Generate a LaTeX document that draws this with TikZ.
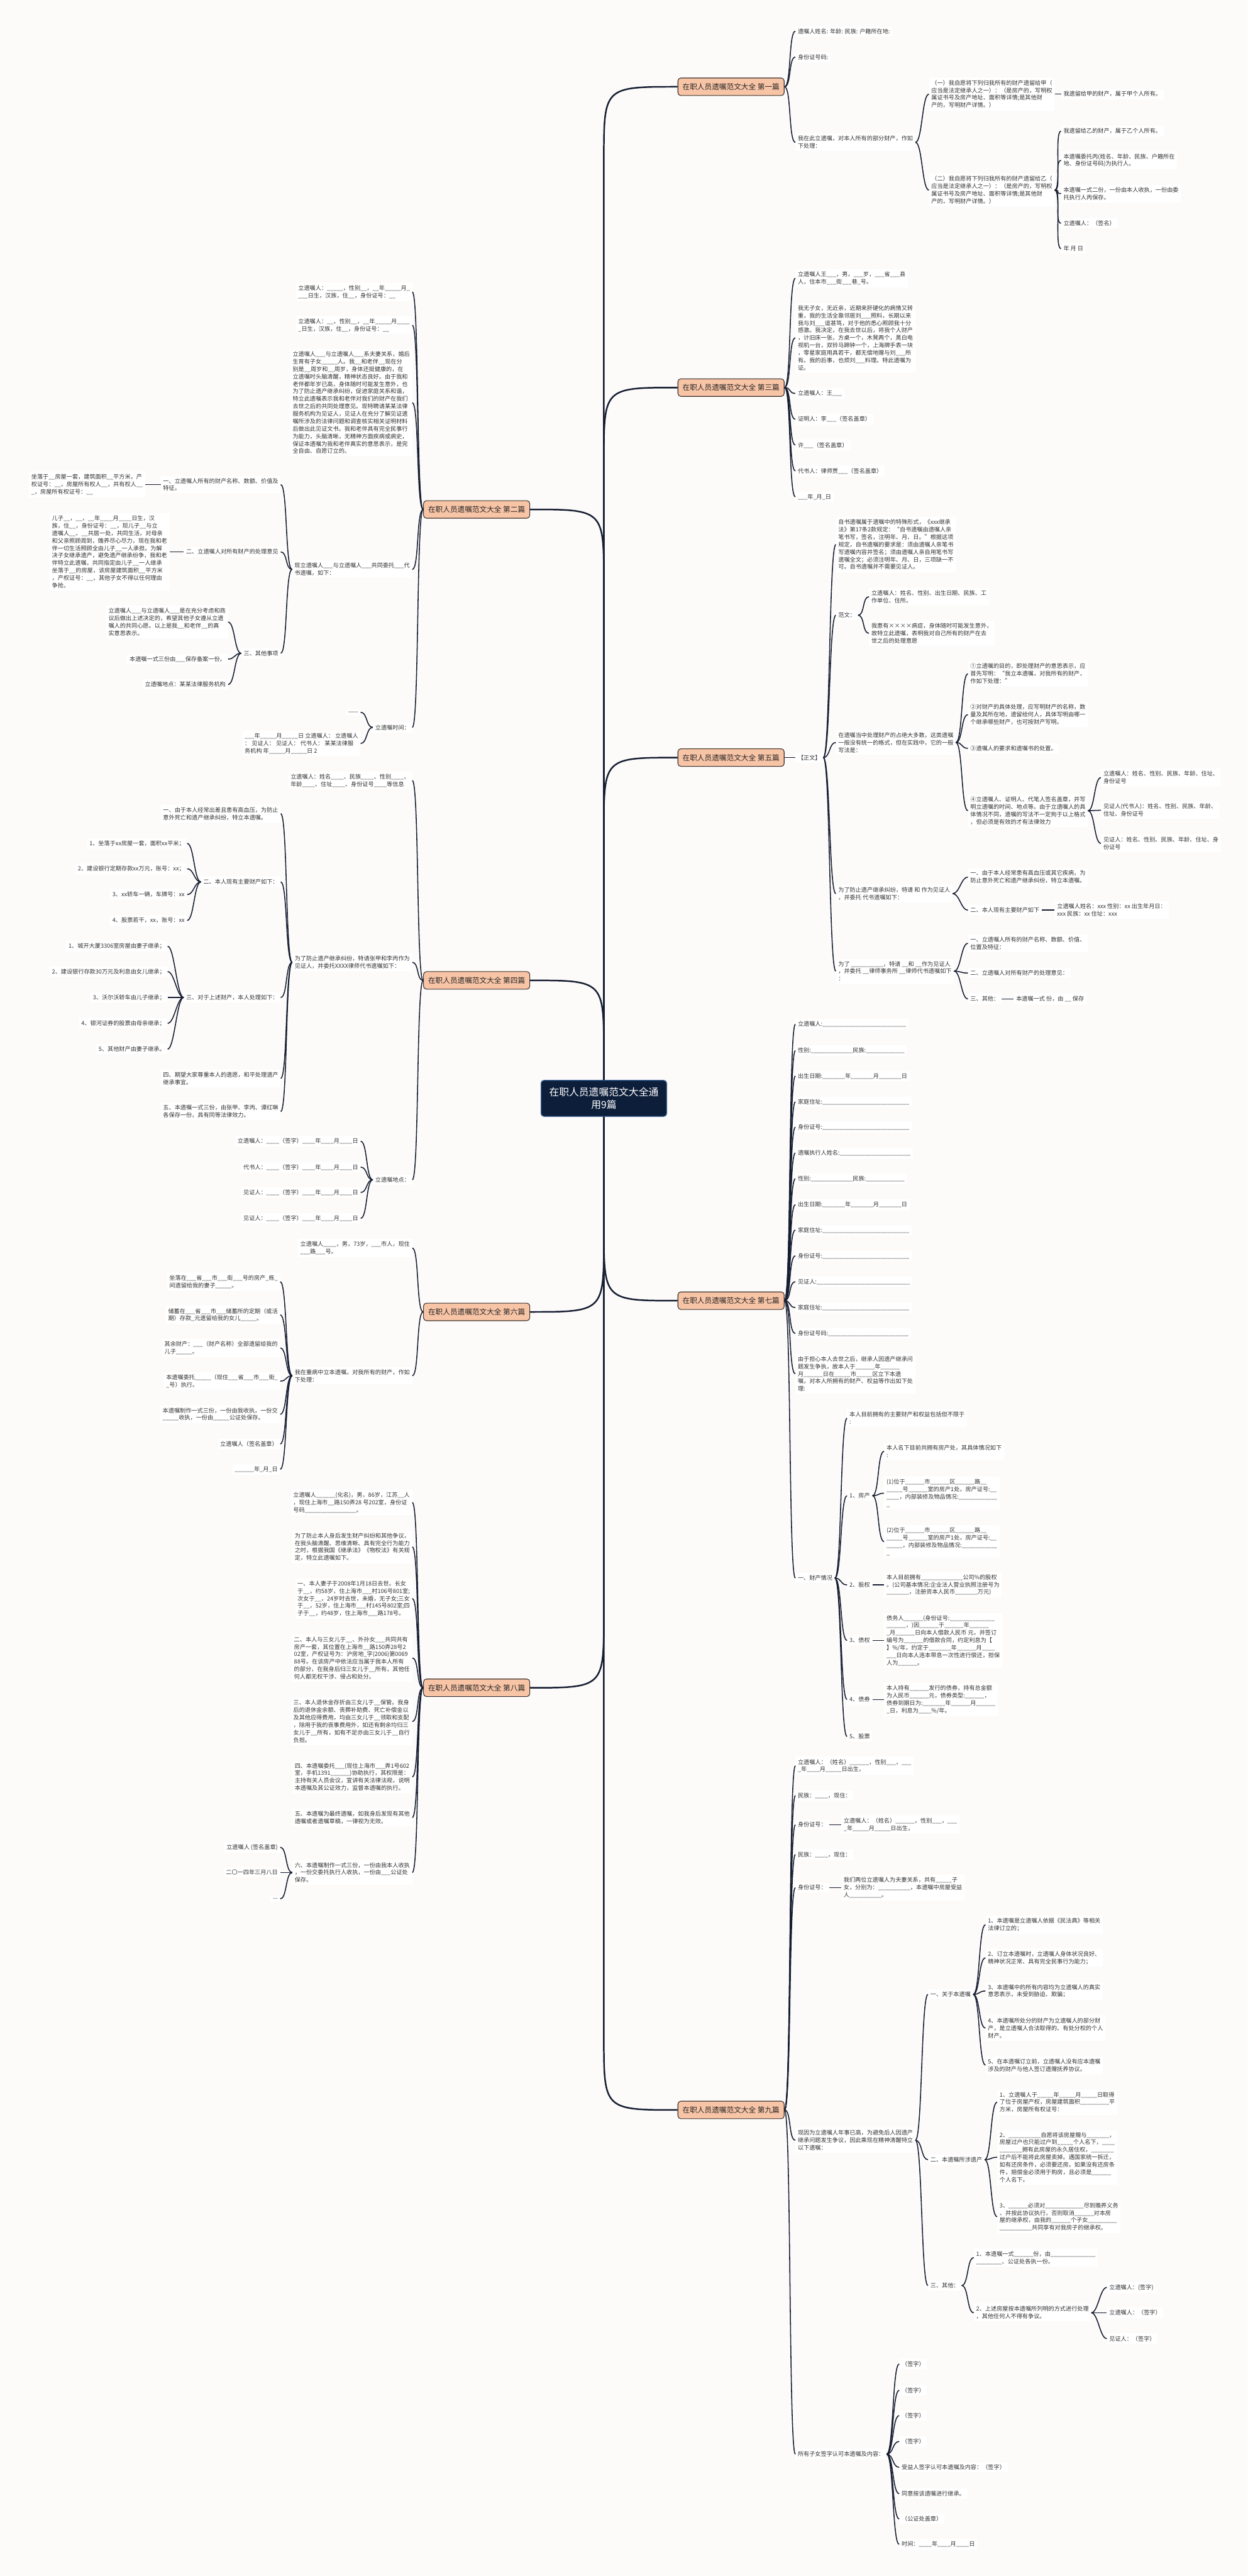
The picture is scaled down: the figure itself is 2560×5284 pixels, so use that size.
\documentclass[tikz,border=0pt]{standalone}
\usepackage{fontspec}
\setmainfont{Noto Sans CJK SC}
\usepackage{tikz}
\usetikzlibrary{calc}
\definecolor{bgcol}{RGB}{253,251,250}
\definecolor{linecol}{RGB}{22,30,50}
\definecolor{peach}{RGB}{248,196,166}
\definecolor{navy}{RGB}{13,30,58}
\definecolor{rootedge}{RGB}{70,110,160}
\definecolor{brdr}{RGB}{60,50,45}
\definecolor{txt}{RGB}{50,50,50}

\begin{document}
\catcode`\_=12
\begin{tikzpicture}[x=0.25mm, y=-0.25mm,
  root/.style = {fill=navy, draw=rootedge, line width=0.4mm, rounded corners=1.5mm, text=white, font=\fontsize{14.5pt}{19pt}\selectfont, align=center, minimum width=64.5mm, minimum height=18.5mm},
  main/.style = {fill=peach, draw=brdr, line width=0.35mm, rounded corners=1.5mm, text=black!85, font=\fontsize{10.7pt}{13pt}\selectfont, minimum width=54.5mm, minimum height=9mm},
  leaf/.style = {fill=white, text=txt, font=\fontsize{8.4pt}{10.9pt}\selectfont, align=left, inner sep=1.2mm},
  trunk/.style = {draw=linecol, line width=0.8mm},
  link/.style = {draw=linecol, line width=0.5mm, to path={.. controls +(14,0) and +(-14,0) .. (\tikztotarget)}},
  linkl/.style = {draw=linecol, line width=0.5mm, to path={.. controls +(-14,0) and +(14,0) .. (\tikztotarget)}}]
\fill[bgcol] (0,0) rectangle (2560,5284);
\useasboundingbox (0,0) rectangle (2560,5284);

\node[root] (0) at (1239,2253) {在职人员遗嘱范文大全通\\用9篇};
\node[main] (1) at (1500,178) {在职人员遗嘱范文大全 第一篇};
\node[main] (2) at (978,1045) {在职人员遗嘱范文大全 第二篇};
\node[main] (3) at (1500,795) {在职人员遗嘱范文大全 第三篇};
\node[main] (4) at (978,2011) {在职人员遗嘱范文大全 第四篇};
\node[main] (5) at (1500,1554) {在职人员遗嘱范文大全 第五篇};
\node[main] (6) at (978,2691) {在职人员遗嘱范文大全 第六篇};
\node[main] (7) at (1500,2668) {在职人员遗嘱范文大全 第七篇};
\node[main] (8) at (978,3462) {在职人员遗嘱范文大全 第八篇};
\node[main] (9) at (1500,4328) {在职人员遗嘱范文大全 第九篇};

\draw[trunk] (0.north) -- ($(0.north |- 1.west)+(0,150)$) .. controls (0.north |- 1.west) .. (1.west);
\draw[trunk] (0.north) -- ($(0.north |- 2.east)+(0,150)$) .. controls (0.north |- 2.east) .. (2.east);
\draw[trunk] (0.north) -- ($(0.north |- 3.west)+(0,150)$) .. controls (0.north |- 3.west) .. (3.west);
\draw[trunk] (0.north) -- ($(0.north |- 4.east)+(0,150)$) .. controls (0.north |- 4.east) .. (4.east);
\draw[trunk] (0.north) -- ($(0.north |- 5.west)+(0,150)$) .. controls (0.north |- 5.west) .. (5.west);
\draw[trunk] (0.south) -- ($(0.south |- 6.east)+(0,-150)$) .. controls (0.south |- 6.east) .. (6.east);
\draw[trunk] (0.south) -- ($(0.south |- 7.west)+(0,-150)$) .. controls (0.south |- 7.west) .. (7.west);
\draw[trunk] (0.south) -- ($(0.south |- 8.east)+(0,-150)$) .. controls (0.south |- 8.east) .. (8.east);
\draw[trunk] (0.south) -- ($(0.south |- 9.west)+(0,-150)$) .. controls (0.south |- 9.west) .. (9.west);

\node[leaf, anchor=west] (11) at (1632,64) {遗嘱人姓名: 年龄: 民族: 户籍所在地:};
\node[leaf, anchor=west] (12) at (1632,117) {身份证号码:};
\node[leaf, anchor=west] (13) at (1632,292) {我在此立遗嘱，对本人所有的部分财产，作如\\下处理：};
\node[leaf, anchor=west] (131) at (1906,193) {（一）我自愿将下列归我所有的财产遗留给甲（\\应当是法定继承人之一）：（是房产的，写明权\\属证书号及房产地址、面积等详情;是其他财\\产的，写明财产详情。）};
\node[leaf, anchor=west] (1311) at (2177,193) {我遗留给甲的财产，属于甲个人所有。};
\node[leaf, anchor=west] (132) at (1906,390) {（二）我自愿将下列归我所有的财产遗留给乙（\\应当是法定继承人之一）：（是房产的，写明权\\属证书号及房产地址、面积等详情;是其他财\\产的，写明财产详情。）};
\node[leaf, anchor=west] (1321) at (2177,269) {我遗留给乙的财产，属于乙个人所有。};
\node[leaf, anchor=west] (1322) at (2177,329) {本遗嘱委托丙(姓名、年龄、民族、户籍所在\\地、身份证号码)为执行人。};
\node[leaf, anchor=west] (1323) at (2177,397) {本遗嘱一式二份，一份由本人收执，一份由委\\托执行人丙保存。};
\node[leaf, anchor=west] (1324) at (2177,458) {立遗嘱人：（签名）};
\node[leaf, anchor=west] (1325) at (2177,510) {年 月 日};
\draw[link] (1.east) to (11.west);
\draw[link] (1.east) to (12.west);
\draw[link] (1.east) to (13.west);
\draw[link] (13.east) to (131.west);
\draw[link] (13.east) to (132.west);
\draw[link] (131.east) to (1311.west);
\draw[link] (132.east) to (1321.west);
\draw[link] (132.east) to (1322.west);
\draw[link] (132.east) to (1323.west);
\draw[link] (132.east) to (1324.west);
\draw[link] (132.east) to (1325.west);

\node[leaf, anchor=west] (31) at (1632,571) {立遗嘱人王___，男，___岁，___省___县\\人，住本市___街___巷_号。};
\node[leaf, anchor=west] (32) at (1632,693) {我无子女，无近亲，近期来肝硬化的病情又转\\重，我的生活全靠邻居刘___照料，长期以来\\我与刘___谊甚笃，对于他的悉心照顾我十分\\感激。我决定，在我去世以后，将我个人财产\\，计旧床一张，方桌一个，木凳两个，黑白电\\视机一台，双铃马蹄钟一个，上海牌手表一块\\，零星家庭用具若干，都无偿地赠与刘___所\\有。我的后事，也烦刘___料理。特此遗嘱为\\证。};
\node[leaf, anchor=west] (33) at (1632,807) {立遗嘱人：王___};
\node[leaf, anchor=west] (34) at (1632,860) {证明人：李___（签名盖章）};
\node[leaf, anchor=west] (35) at (1632,913) {许___（签名盖章）};
\node[leaf, anchor=west] (36) at (1632,966) {代书人：律师贾___（签名盖章）};
\node[leaf, anchor=west] (37) at (1632,1019) {___年_月_日};
\draw[link] (3.east) to (31.west);
\draw[link] (3.east) to (32.west);
\draw[link] (3.east) to (33.west);
\draw[link] (3.east) to (34.west);
\draw[link] (3.east) to (35.west);
\draw[link] (3.east) to (36.west);
\draw[link] (3.east) to (37.west);

\node[leaf, anchor=west] (51) at (1632,1554) {【正文】};
\node[leaf, anchor=west] (511) at (1715,1117) {自书遗嘱属于遗嘱中的特殊形式，《xxx继承\\法》第17条2款规定：“自书遗嘱由遗嘱人亲\\笔书写，签名，注明年、月、日。”根据这项\\规定，自书遗嘱的要求是：须由遗嘱人亲笔书\\写遗嘱内容并签名；须由遗嘱人亲自用笔书写\\遗嘱全文；必须注明年、月、日，三项缺一不\\可。自书遗嘱并不需要见证人。};
\node[leaf, anchor=west] (512) at (1715,1262) {范文：};
\node[leaf, anchor=west] (5121) at (1783,1224) {立遗嘱人：姓名、性别、出生日期、民族、工\\作单位、住所。};
\node[leaf, anchor=west] (5122) at (1783,1299) {我患有××××病症，身体随时可能发生意外，\\故特立此遗嘱，表明我对自己所有的财产在去\\世之后的处理意愿};
\node[leaf, anchor=west] (513) at (1715,1523) {在遗嘱当中处理财产的占绝大多数，这类遗嘱\\一般没有统一的格式，但在实践中，它的一般\\写法是：};
\node[leaf, anchor=west] (5131) at (1986,1382) {①立遗嘱的目的，即处理财产的意思表示，应\\首先写明：“我立本遗嘱，对我所有的财产，\\作如下处理：”};
\node[leaf, anchor=west] (5132) at (1986,1466) {②对财产的具体处理，应写明财产的名称，数\\量及其所在地，遗留给何人，具体写明由哪一\\个继承哪些财产，也可按财产写明。};
\node[leaf, anchor=west] (5133) at (1986,1535) {③遗嘱人的要求和遗嘱书的处置。};
\node[leaf, anchor=west] (5134) at (1986,1663) {④立遗嘱人、证明人、代笔人签名盖章，并写\\明立遗嘱的时间、地点等。由于立遗嘱人的具\\体情况不同，遗嘱的写法不一定拘于以上格式\\，但必须是有效的才有法律效力};
\node[leaf, anchor=west] (51341) at (2259,1595) {立遗嘱人：姓名、性别、民族、年龄、住址、\\身份证号};
\node[leaf, anchor=west] (51342) at (2259,1662) {见证人(代书人)：姓名、性别、民族、年龄、\\住址、身份证号};
\node[leaf, anchor=west] (51343) at (2259,1730) {见证人：姓名、性别、民族、年龄、住址、身\\份证号};
\node[leaf, anchor=west] (514) at (1715,1833) {为了防止遗产继承纠纷，特请 和 作为见证人\\，并委托 代书遗嘱如下：};
\node[leaf, anchor=west] (5141) at (1986,1799) {一、由于本人经常患有高血压或其它疾病，为\\防止意外死亡和遗产继承纠纷，特立本遗嘱。};
\node[leaf, anchor=west] (5142) at (1986,1867) {二、本人现有主要财产如下};
\node[leaf, anchor=west] (51421) at (2164,1867) {立遗嘱人姓名：xxx 性别：xx 出生年月日：\\xxx 民族：xx 住址：xxx};
\node[leaf, anchor=west] (515) at (1715,1992) {为了 __________，特请 __和 __作为见证人\\，并委托 __律师事务所 __律师代书遗嘱如下\\：};
\node[leaf, anchor=west] (5151) at (1986,1935) {一、立遗嘱人所有的财产名称、数额、价值、\\位置及特征：};
\node[leaf, anchor=west] (5152) at (1986,1996) {二、立遗嘱人对所有财产的处理意见：};
\node[leaf, anchor=west] (5153) at (1986,2049) {三、其他：};
\node[leaf, anchor=west] (51531) at (2080,2049) {本遗嘱一式 份，由 __ 保存};
\draw[link] (5.east) to (51.west);
\draw[link] (51.east) to (511.west);
\draw[link] (51.east) to (512.west);
\draw[link] (51.east) to (513.west);
\draw[link] (51.east) to (514.west);
\draw[link] (51.east) to (515.west);
\draw[link] (512.east) to (5121.west);
\draw[link] (512.east) to (5122.west);
\draw[link] (513.east) to (5131.west);
\draw[link] (513.east) to (5132.west);
\draw[link] (513.east) to (5133.west);
\draw[link] (513.east) to (5134.west);
\draw[link] (5134.east) to (51341.west);
\draw[link] (5134.east) to (51342.west);
\draw[link] (5134.east) to (51343.west);
\draw[link] (514.east) to (5141.west);
\draw[link] (514.east) to (5142.west);
\draw[link] (5142.east) to (51421.west);
\draw[link] (515.east) to (5151.west);
\draw[link] (515.east) to (5152.west);
\draw[link] (515.east) to (5153.west);
\draw[link] (5153.east) to (51531.west);

\node[leaf, anchor=west] (71) at (1632,2101) {立遗嘱人:__________________________};
\node[leaf, anchor=west] (72) at (1632,2155) {性别:_____________民族:____________};
\node[leaf, anchor=west] (73) at (1632,2207) {出生日期:_______年_______月_______日};
\node[leaf, anchor=west] (74) at (1632,2260) {家庭住址:___________________________};
\node[leaf, anchor=west] (75) at (1632,2312) {身份证号:___________________________};
\node[leaf, anchor=west] (76) at (1632,2365) {遗嘱执行人姓名:______________________};
\node[leaf, anchor=west] (77) at (1632,2418) {性别:_____________民族:____________};
\node[leaf, anchor=west] (78) at (1632,2471) {出生日期:_______年_______月_______日};
\node[leaf, anchor=west] (79) at (1632,2523) {家庭住址:___________________________};
\node[leaf, anchor=west] (710) at (1632,2576) {身份证号:___________________________};
\node[leaf, anchor=west] (711) at (1632,2629) {见证人:_____________________________};
\node[leaf, anchor=west] (712) at (1632,2682) {家庭住址:___________________________};
\node[leaf, anchor=west] (713) at (1632,2735) {身份证号码:_________________________};
\node[leaf, anchor=west] (714) at (1632,2818) {由于担心本人去世之后，继承人因遗产继承问\\题发生争执，故本人于______年______\\月______日在_____市_____区立下本遗\\嘱，对本人所拥有的财产、权益等作出如下处\\理:};
\node[leaf, anchor=west] (715) at (1632,3237) {一、财产情况};
\node[leaf, anchor=west] (7151) at (1738,2909) {本人目前拥有的主要财产和权益包括但不限于\\:};
\node[leaf, anchor=west] (7152) at (1738,3068) {1、房产};
\node[leaf, anchor=west] (71521) at (1814,2977) {本人名下目前共拥有房产处，其具体情况如下\\:};
\node[leaf, anchor=west] (71522) at (1814,3063) {(1)位于______市______区______路__\\_____号______室的房产1处，房产证号:__\\____，内部装修及物品情况:____________\\_};
\node[leaf, anchor=west] (71523) at (1814,3162) {(2)位于______市______区______路__\\_____号______室的房产1处，房产证号:__\\_____，内部装修及物品情况:___________\\_};
\node[leaf, anchor=west] (7153) at (1738,3251) {2、股权};
\node[leaf, anchor=west] (71531) at (1814,3251) {本人目前拥有_____________公司\%的股权\\。(公司基本情况:企业法人营业执照注册号为\\_______，注册资本人民币_______万元)};
\node[leaf, anchor=west] (7154) at (1738,3365) {3、债权};
\node[leaf, anchor=west] (71541) at (1814,3365) {债务人______(身份证号:______________\\______，)因______于______年______\\_月______日向本人借款人民币 元，并签订\\编号为______的借款合同，约定利息为【\\】\%/年，约定于_______年______月____\\___日向本人连本带息一次性进行偿还，担保\\人为______。};
\node[leaf, anchor=west] (7155) at (1738,3486) {4、债券};
\node[leaf, anchor=west] (71551) at (1814,3486) {本人持有______发行的债券，持有总金额\\为人民币______元，债券类型:______，\\债券到期日为:_______年______月______\\_日，利息为____\%/年。};
\node[leaf, anchor=west] (7156) at (1738,3562) {5、股票};
\draw[link] (7.east) to (71.west);
\draw[link] (7.east) to (72.west);
\draw[link] (7.east) to (73.west);
\draw[link] (7.east) to (74.west);
\draw[link] (7.east) to (75.west);
\draw[link] (7.east) to (76.west);
\draw[link] (7.east) to (77.west);
\draw[link] (7.east) to (78.west);
\draw[link] (7.east) to (79.west);
\draw[link] (7.east) to (710.west);
\draw[link] (7.east) to (711.west);
\draw[link] (7.east) to (712.west);
\draw[link] (7.east) to (713.west);
\draw[link] (7.east) to (714.west);
\draw[link] (7.east) to (715.west);
\draw[link] (715.east) to (7151.west);
\draw[link] (715.east) to (7152.west);
\draw[link] (715.east) to (7153.west);
\draw[link] (715.east) to (7154.west);
\draw[link] (715.east) to (7155.west);
\draw[link] (715.east) to (7156.west);
\draw[link] (7152.east) to (71521.west);
\draw[link] (7152.east) to (71522.west);
\draw[link] (7152.east) to (71523.west);
\draw[link] (7153.east) to (71531.west);
\draw[link] (7154.east) to (71541.west);
\draw[link] (7155.east) to (71551.west);

\node[leaf, anchor=west] (91) at (1632,3622) {立遗嘱人：（姓名）______，性别___，___\\_年____月_____日出生，};
\node[leaf, anchor=west] (92) at (1632,3683) {民族：____，现住：};
\node[leaf, anchor=west] (93) at (1632,3743) {身份证号：};
\node[leaf, anchor=west] (931) at (1726,3743) {立遗嘱人：（姓名）______，性别___，___\\_年_____月_____日出生，};
\node[leaf, anchor=west] (94) at (1632,3804) {民族：____，现住：};
\node[leaf, anchor=west] (95) at (1632,3872) {身份证号：};
\node[leaf, anchor=west] (951) at (1726,3872) {我们两位立遗嘱人为夫妻关系，共有_____子\\女，分别为：__________，本遗嘱中房屋受益\\人__________。};
\node[leaf, anchor=west] (96) at (1632,4390) {现因为立遗嘱人年事已高，为避免后人因遗产\\继承问题发生争议，因此乘现在精神清醒特立\\以下遗嘱：};
\node[leaf, anchor=west] (961) at (1904,4091) {一、关于本遗嘱};
\node[leaf, anchor=west] (9611) at (2022,3948) {1、本遗嘱是立遗嘱人依据《民法典》等相关\\法律订立的；};
\node[leaf, anchor=west] (9612) at (2022,4016) {2、订立本遗嘱时，立遗嘱人身体状况良好、\\精神状况正常、具有完全民事行为能力；};
\node[leaf, anchor=west] (9613) at (2022,4084) {3、本遗嘱中的所有内容均为立遗嘱人的真实\\意思表示，未受到胁迫、欺骗；};
\node[leaf, anchor=west] (9614) at (2022,4160) {4、本遗嘱所处分的财产为立遗嘱人的部分财\\产，是立遗嘱人合法取得的、有处分权的个人\\财产。};
\node[leaf, anchor=west] (9615) at (2022,4236) {5、在本遗嘱订立前，立遗嘱人没有应本遗嘱\\涉及的财产与他人签订遗赠抚养协议。};
\node[leaf, anchor=west] (962) at (1904,4430) {二、本遗嘱所涉遗产};
\node[leaf, anchor=west] (9621) at (2046,4312) {1、立遗嘱人于_____年_____月_____日取得\\了位于房屋产权，房屋建筑面积_________平\\方米，房屋所有权证号：};
\node[leaf, anchor=west] (9622) at (2046,4425) {2、__________自愿将该房屋赠与_______，\\房屋过户也只能过户到_____个人名下，____\\_______拥有此房屋的永久居住权，_______\\过户后不能将此房屋卖掉。遇国家统一拆迁，\\如有还房条件，必须要还房。如果没有还房条\\件，赔偿金必须用于购房，且必须是______\\个人名下。};
\node[leaf, anchor=west] (9623) at (2046,4547) {3、______必须对____________尽到赡养义务\\、并按此协议执行，否则取消______对本房\\屋的继承权，由我的______个子女_________\\__________共同享有对我房子的继承权。};
\node[leaf, anchor=west] (963) at (1904,4688) {三、其他：};
\node[leaf, anchor=west] (9631) at (1998,4631) {1、本遗嘱一式______份，由______________\\________、公证处各执一份。};
\node[leaf, anchor=west] (9632) at (1998,4744) {2、上述房屋按本遗嘱所列明的方式进行处理\\，其他任何人不得有争议。};
\node[leaf, anchor=west] (96321) at (2271,4692) {立遗嘱人：(签字)};
\node[leaf, anchor=west] (96322) at (2271,4744) {立遗嘱人：（签字）};
\node[leaf, anchor=west] (96323) at (2271,4797) {见证人：（签字）};
\node[leaf, anchor=west] (97) at (1632,5034) {所有子女签字认可本遗嘱及内容：};
\node[leaf, anchor=west] (971) at (1845,4849) {（签字）};
\node[leaf, anchor=west] (972) at (1845,4903) {（签字）};
\node[leaf, anchor=west] (973) at (1845,4955) {（签字）};
\node[leaf, anchor=west] (974) at (1845,5008) {（签字）};
\node[leaf, anchor=west] (975) at (1845,5061) {受益人签字认可本遗嘱及内容：（签字）};
\node[leaf, anchor=west] (976) at (1845,5115) {同意按该遗嘱进行继承。};
\node[leaf, anchor=west] (977) at (1845,5167) {（公证处盖章）};
\node[leaf, anchor=west] (978) at (1845,5219) {时间：____年____月____日};
\draw[link] (9.east) to (91.west);
\draw[link] (9.east) to (92.west);
\draw[link] (9.east) to (93.west);
\draw[link] (9.east) to (94.west);
\draw[link] (9.east) to (95.west);
\draw[link] (9.east) to (96.west);
\draw[link] (9.east) to (97.west);
\draw[link] (93.east) to (931.west);
\draw[link] (95.east) to (951.west);
\draw[link] (96.east) to (961.west);
\draw[link] (96.east) to (962.west);
\draw[link] (96.east) to (963.west);
\draw[link] (961.east) to (9611.west);
\draw[link] (961.east) to (9612.west);
\draw[link] (961.east) to (9613.west);
\draw[link] (961.east) to (9614.west);
\draw[link] (961.east) to (9615.west);
\draw[link] (962.east) to (9621.west);
\draw[link] (962.east) to (9622.west);
\draw[link] (962.east) to (9623.west);
\draw[link] (963.east) to (9631.west);
\draw[link] (963.east) to (9632.west);
\draw[link] (9632.east) to (96321.west);
\draw[link] (9632.east) to (96322.west);
\draw[link] (9632.east) to (96323.west);
\draw[link] (97.east) to (971.west);
\draw[link] (97.east) to (972.west);
\draw[link] (97.east) to (973.west);
\draw[link] (97.east) to (974.west);
\draw[link] (97.east) to (975.west);
\draw[link] (97.east) to (976.west);
\draw[link] (97.east) to (977.west);
\draw[link] (97.east) to (978.west);

\node[leaf, anchor=east] (21) at (846,599) {立遗嘱人：_____，性别__，__年_____月_\\___日生，汉族，住__，身份证号：__};
\node[leaf, anchor=east] (22) at (846,667) {立遗嘱人：__，性别__，__年_____月____\\_日生，汉族，住__，身份证号：__};
\node[leaf, anchor=east] (23) at (846,826) {立遗嘱人___与立遗嘱人___系夫妻关系，婚后\\生育有子女_____人。我__和老伴__现在分\\别是__周岁和__周岁，身体还挺健康的，在\\立遗嘱时头脑清醒，精神状态良好。由于我和\\老伴都年岁已高，身体随时可能发生意外，也\\为了防止遗产继承纠纷，促进家庭关系和谐，\\特立此遗嘱表示我和老伴对我们的财产在我们\\去世之后的共同处理意见。现特聘请某某法律\\服务机构为见证人，见证人在充分了解见证遗\\嘱所涉及的法律问题和调查核实相关证明材料\\后做出此见证文书。我和老伴具有完全民事行\\为能力，头脑清晰，无精神方面疾病或病史，\\保证本遗嘱为我和老伴真实的意思表示，是完\\全自由、自愿订立的。};
\node[leaf, anchor=east] (24) at (846,1168) {现立遗嘱人___与立遗嘱人___共同委托___代\\书遗嘱，如下：};
\node[leaf, anchor=east] (241) at (576,994) {一、立遗嘱人所有的财产名称、数额、价值及\\特征。};
\node[leaf, anchor=east] (2411) at (298,994) {坐落于__房屋一套，建筑面积__平方米，产\\权证号：__，房屋所有权人__，共有权人__\\_，房屋所有权证号：__};
\node[leaf, anchor=east] (242) at (576,1132) {二、立遗嘱人对所有财产的处理意见};
\node[leaf, anchor=east] (2421) at (348,1132) {儿子__，__，__年____月____日生，汉\\族，住__，身份证号：__，现儿子__与立\\遗嘱人__、__共居一处，共同生活，对母亲\\和父亲照顾周到，赡养尽心尽力，现在我和老\\伴一切生活照顾全由儿子__一人承担。为解\\决子女继承遗产，避免遗产继承纷争，我和老\\伴特立此遗嘱，共同指定由儿子__一人继承\\坐落于__的房屋，该房屋建筑面积__平方米\\，产权证号：__，其他子女不得以任何理由\\争抢。};
\node[leaf, anchor=east] (243) at (576,1340) {三、其他事项};
\node[leaf, anchor=east] (2431) at (468,1276) {立遗嘱人___与立遗嘱人___是在充分考虑和商\\议后做出上述决定的，希望其他子女遵从立遗\\嘱人的共同心愿。以上是我__和老伴__的真\\实意思表示。};
\node[leaf, anchor=east] (2432) at (468,1352) {本遗嘱一式三份由___保存备案一份。};
\node[leaf, anchor=east] (2433) at (468,1404) {立遗嘱地点：某某法律服务机构};
\node[leaf, anchor=east] (25) at (846,1492) {立遗嘱时间：};
\node[leaf, anchor=east] (251) at (740,1461) {___};
\node[leaf, anchor=east] (252) at (740,1525) {___年_____月_____日 立遗嘱人：  立遗嘱人\\：  见证人：  见证人：  代书人：  某某法律服\\务机构 年_____月_____日 2};
\draw[linkl] (2.west) to (21.east);
\draw[linkl] (2.west) to (22.east);
\draw[linkl] (2.west) to (23.east);
\draw[linkl] (2.west) to (24.east);
\draw[linkl] (2.west) to (25.east);
\draw[linkl] (24.west) to (241.east);
\draw[linkl] (24.west) to (242.east);
\draw[linkl] (24.west) to (243.east);
\draw[linkl] (241.west) to (2411.east);
\draw[linkl] (242.west) to (2421.east);
\draw[linkl] (243.west) to (2431.east);
\draw[linkl] (243.west) to (2432.east);
\draw[linkl] (243.west) to (2433.east);
\draw[linkl] (25.west) to (251.east);
\draw[linkl] (25.west) to (252.east);

\node[leaf, anchor=east] (41) at (846,1601) {立遗嘱人：姓名____、民族____、性别____、\\年龄____、住址____、身份证号____等信息};
\node[leaf, anchor=east] (42) at (846,1974) {为了防止遗产继承纠纷，特请张甲和李丙作为\\见证人，并委托XXXX律师代书遗嘱如下：};
\node[leaf, anchor=east] (421) at (576,1669) {一、由于本人经常出差且患有高血压，为防止\\意外死亡和遗产继承纠纷，特立本遗嘱。};
\node[leaf, anchor=east] (422) at (576,1809) {二、本人现有主要财产如下：};
\node[leaf, anchor=east] (4221) at (384,1730) {1、坐落于xx房屋一套，面积xx平米；};
\node[leaf, anchor=east] (4222) at (384,1782) {2、建设银行定期存款xx万元，账号：xx；};
\node[leaf, anchor=east] (4223) at (384,1835) {3、xx轿车一辆，车牌号：xx};
\node[leaf, anchor=east] (4224) at (384,1888) {4、股票若干，xx，账号：xx};
\node[leaf, anchor=east] (423) at (576,2046) {三、对于上述财产，本人处理如下：};
\node[leaf, anchor=east] (4231) at (344,1941) {1、城开大厦3306室房屋由妻子继承；};
\node[leaf, anchor=east] (4232) at (344,1993) {2、建设银行存款30万元及利息由女儿继承；};
\node[leaf, anchor=east] (4233) at (344,2046) {3、沃尔沃轿车由儿子继承；};
\node[leaf, anchor=east] (4234) at (344,2099) {4、银河证券的股票由母亲继承；};
\node[leaf, anchor=east] (4235) at (344,2152) {5、其他财产由妻子继承。};
\node[leaf, anchor=east] (424) at (576,2212) {四、期望大家尊重本人的遗愿，和平处理遗产\\继承事宜。};
\node[leaf, anchor=east] (425) at (576,2280) {五、本遗嘱一式三份，由张甲、李丙、谭红琳\\各保存一份，具有同等法律效力。};
\node[leaf, anchor=east] (43) at (846,2420) {立遗嘱地点：};
\node[leaf, anchor=east] (431) at (740,2341) {立遗嘱人：____（签字）____年____月____日};
\node[leaf, anchor=east] (432) at (740,2394) {代书人：____（签字）____年____月____日};
\node[leaf, anchor=east] (433) at (740,2446) {见证人：____（签字）____年____月____日};
\node[leaf, anchor=east] (434) at (740,2499) {见证人：____（签字）____年____月____日};
\draw[linkl] (4.west) to (41.east);
\draw[linkl] (4.west) to (42.east);
\draw[linkl] (4.west) to (43.east);
\draw[linkl] (42.west) to (421.east);
\draw[linkl] (42.west) to (422.east);
\draw[linkl] (42.west) to (423.east);
\draw[linkl] (42.west) to (424.east);
\draw[linkl] (42.west) to (425.east);
\draw[linkl] (422.west) to (4221.east);
\draw[linkl] (422.west) to (4222.east);
\draw[linkl] (422.west) to (4223.east);
\draw[linkl] (422.west) to (4224.east);
\draw[linkl] (423.west) to (4231.east);
\draw[linkl] (423.west) to (4232.east);
\draw[linkl] (423.west) to (4233.east);
\draw[linkl] (423.west) to (4234.east);
\draw[linkl] (423.west) to (4235.east);
\draw[linkl] (43.west) to (431.east);
\draw[linkl] (43.west) to (432.east);
\draw[linkl] (43.west) to (433.east);
\draw[linkl] (43.west) to (434.east);

\node[leaf, anchor=east] (61) at (846,2560) {立遗嘱人____，男，73岁，___市人，现住\\___路___号。};
\node[leaf, anchor=east] (62) at (846,2822) {我在重病中立本遗嘱，对我所有的财产，作如\\下处理：};
\node[leaf, anchor=east] (621) at (575,2629) {坐落在___省___市___街___号的房产_栋_\\间遗留给我的妻子_____。};
\node[leaf, anchor=east] (622) at (575,2697) {储蓄在___省___市___储蓄所的定期（或活\\期）存款_元遗留给我的女儿_____。};
\node[leaf, anchor=east] (623) at (575,2765) {其余财产：___（财产名称）全部遗留给我的\\儿子_____。};
\node[leaf, anchor=east] (624) at (575,2833) {本遗嘱委托_____（现住___省___市___街_\\_号）执行。};
\node[leaf, anchor=east] (625) at (575,2901) {本遗嘱制作一式三份，一份由我收执，一份交\\_____收执，一份由_____公证处保存。};
\node[leaf, anchor=east] (626) at (575,2962) {立遗嘱人（签名盖章）};
\node[leaf, anchor=east] (627) at (575,3014) {______年_月_日};
\draw[linkl] (6.west) to (61.east);
\draw[linkl] (6.west) to (62.east);
\draw[linkl] (62.west) to (621.east);
\draw[linkl] (62.west) to (622.east);
\draw[linkl] (62.west) to (623.east);
\draw[linkl] (62.west) to (624.east);
\draw[linkl] (62.west) to (625.east);
\draw[linkl] (62.west) to (626.east);
\draw[linkl] (62.west) to (627.east);

\node[leaf, anchor=east] (81) at (846,3082) {立遗嘱人______(化名)，男，86岁，江苏__人\\，现住上海市__路150弄28 号202室，身份证\\号码________________。};
\node[leaf, anchor=east] (82) at (846,3173) {为了防止本人身后发生财产纠纷和其他争议，\\在我头脑清醒、思维清晰、具有完全行为能力\\之时，根据我国《继承法》《物权法》有关规\\定，特立此遗嘱如下。};
\node[leaf, anchor=east] (83) at (846,3279) {一、本人妻子于2008年1月18日去世。长女\\于__，约58岁，住上海市___村106号801室;\\次女于__，24岁时去世，未婚，无子女;三女\\于__，52岁，住上海市___村145号802室;四\\子于__，约48岁，住上海市___路178号。};
\node[leaf, anchor=east] (84) at (846,3401) {二、本人与三女儿于__、外孙女___共同共有\\房产一套，其位置在上海市__路150弄28号2\\02室，产权证号为：沪房地_字(2006)第0069\\88号。在该房产中依法应当属于我本人所有\\的部分，在我身后归三女儿于__所有，其他任\\何人都无权干涉、侵占和处分。};
\node[leaf, anchor=east] (85) at (846,3531) {三、本人退休金存折由三女儿于__保管。我身\\后的退休金余额、丧葬补助费、死亡补偿金以\\及其他应得费用，均由三女儿于__领取和支配\\，除用于我的丧事费用外，如还有剩余均归三\\女儿于__所有，如有不足亦由三女儿于__自行\\负担。};
\node[leaf, anchor=east] (86) at (846,3645) {四、本遗嘱委托___(现住上海市___弄1号602\\室，手机1391______)协助执行，其权限是：\\主持有关人员会议，宣讲有关法律法规，说明\\本遗嘱及其公证效力，监督本遗嘱的执行。};
\node[leaf, anchor=east] (87) at (846,3728) {五、本遗嘱为最终遗嘱，如我身后发现有其他\\遗嘱或者遗嘱草稿，一律视为无效。};
\node[leaf, anchor=east] (88) at (846,3841) {六、本遗嘱制作一式三份，一份由我本人收执\\，一份交委托执行人收执，一份由___公证处\\保存。};
\node[leaf, anchor=east] (881) at (575,3789) {立遗嘱人 (签名盖章)};
\node[leaf, anchor=east] (882) at (575,3841) {二〇一四年三月八日};
\node[leaf, anchor=east] (883) at (575,3895) {...};
\draw[linkl] (8.west) to (81.east);
\draw[linkl] (8.west) to (82.east);
\draw[linkl] (8.west) to (83.east);
\draw[linkl] (8.west) to (84.east);
\draw[linkl] (8.west) to (85.east);
\draw[linkl] (8.west) to (86.east);
\draw[linkl] (8.west) to (87.east);
\draw[linkl] (8.west) to (88.east);
\draw[linkl] (88.west) to (881.east);
\draw[linkl] (88.west) to (882.east);
\draw[linkl] (88.west) to (883.east);
\end{tikzpicture}
\end{document}
